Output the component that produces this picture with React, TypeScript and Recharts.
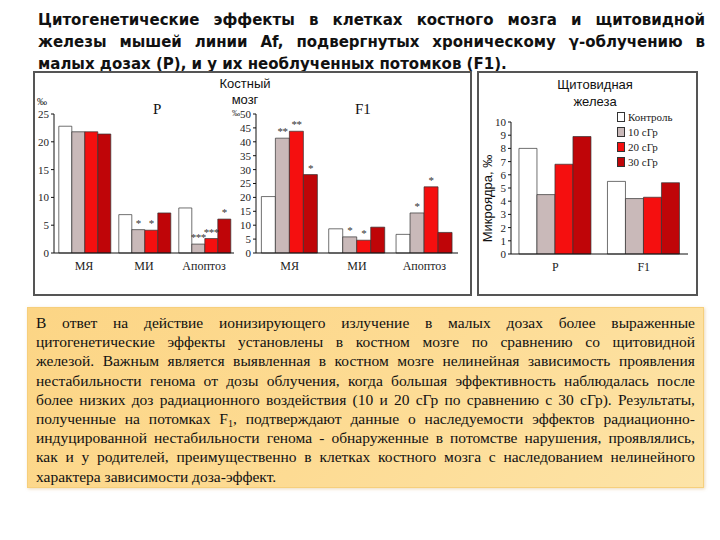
import React from "react"
import { BarChart, Bar, XAxis, YAxis, LabelList } from "recharts"

// categories
const groups = ["МЯ", "МИ", "Апоптоз"]
const doses = ["Контроль", "10 сГр", "20 сГр", "30 сГр"]

// bone marrow, P
const pControl = [22.8, 6.9, 8.1]
const p10 = [21.8, 4.2, 1.6]
const p20 = [21.8, 4.1, 2.6]
const p30 = [21.4, 7.2, 6.1]
const pStars10 = ["", "*", "***"]
const pStars20 = ["", "*", "***"]
const pStars30 = ["", "", "*"]

// bone marrow, F1
const f1Control = [20.3, 8.7, 6.7]
const f1Dose10 = [41.3, 5.8, 14.4]
const f1Dose20 = [43.8, 4.6, 23.8]
const f1Dose30 = [28.2, 9.3, 7.4]
const f1Stars10 = ["**", "*", "*"]
const f1Stars20 = ["**", "*", "*"]
const f1Stars30 = ["*", "", ""]

// thyroid
const thyGroups = ["P", "F1"]
const thyControl = [8.0, 5.5]
const thy10 = [4.5, 4.2]
const thy20 = [6.8, 4.3]
const thy30 = [8.9, 5.4]

const pTicks = [0, 5, 10, 15, 20, 25]
const f1Ticks = [0, 5, 10, 15, 20, 25, 30, 35, 40, 45, 50]
const thyTicks = [0, 1, 2, 3, 4, 5, 6, 7, 8, 9, 10]

const colors = ["#ffffff", "#c9b9b9", "#f50f0f", "#bf0508"]

const serif = "Liberation Serif, Times New Roman, DejaVu Serif, serif"
const sans = "Liberation Sans, Arial, sans-serif"

const makeRows = (
  cats: string[],
  a: number[],
  b: number[],
  c: number[],
  d: number[],
  sb?: string[],
  sc?: string[],
  sd?: string[]
) =>
  cats.map((name, i) => ({
    name,
    c0: a[i],
    c1: b[i],
    c2: c[i],
    c3: d[i],
    s1: sb ? sb[i] : "",
    s2: sc ? sc[i] : "",
    s3: sd ? sd[i] : "",
  }))

const pRows = makeRows(groups, pControl, p10, p20, p30, pStars10, pStars20, pStars30)
const f1Rows = makeRows(groups, f1Control, f1Dose10, f1Dose20, f1Dose30, f1Stars10, f1Stars20, f1Stars30)
const thyRows = makeRows(thyGroups, thyControl, thy10, thy20, thy30)

const renderStar = (props: any) => {
  const { x, y, width, value } = props
  if (!value) return null
  return (
    <text
      x={Number(x) + Number(width) / 2}
      y={Number(y) - 3}
      textAnchor="middle"
      fontSize={11}
      letterSpacing={-0.5}
      fill="#333"
      fontFamily={serif}
    >
      {value}
    </text>
  )
}

const tickStyle = { fontSize: 11, fill: "#222", fontFamily: serif }

const Panel = ({
  rows,
  ticks,
  max,
  width,
  height,
  top,
  gap,
  xHeight,
  stars,
}: {
  rows: any[]
  ticks: number[]
  max: number
  width: number
  height: number
  top: number
  gap: string
  xHeight: number
  stars: boolean
}) => (
  <BarChart
    width={width}
    height={height}
    data={rows}
    margin={{ top, right: 5, left: 0, bottom: 0 }}
    barCategoryGap={gap}
    barGap={0}
  >
    <XAxis
      dataKey="name"
      stroke="#111"
      tickLine={false}
      height={xHeight}
      tick={{ ...tickStyle, fontSize: 12 }}
      interval={0}
    />
    <YAxis
      width={20}
      domain={[0, max]}
      ticks={ticks}
      stroke="#111"
      tickSize={3}
      tick={tickStyle}
      interval={0}
    />
    {[0, 1, 2, 3].map((i) => (
      <Bar
        key={i}
        dataKey={`c${i}`}
        name={doses[i]}
        fill={colors[i]}
        stroke="#333"
        strokeWidth={0.7}
        isAnimationActive={false}
      >
        {stars && i > 0 ? <LabelList dataKey={`s${i}`} content={renderStar} /> : null}
      </Bar>
    ))}
  </BarChart>
)

const abs = (left: number, top: number): React.CSSProperties => ({
  position: "absolute",
  left,
  top,
})

const titleLines = [
  "Цитогенетические эффекты в клетках костного мозга и щитовидной",
  "железы мышей линии Af, подвергнутых хроническому γ-облучению в",
  "малых дозах (Р), и у их необлученных потомков (F1).",
]

const bodyLines: React.ReactNode[] = [
  "В ответ на действие ионизирующего излучение в малых дозах более выраженные",
  "цитогенетические эффекты установлены в костном мозге по сравнению со щитовидной",
  "железой. Важным является выявленная в костном мозге нелинейная зависимость проявления",
  "нестабильности генома от дозы облучения, когда большая эффективность наблюдалась после",
  "более низких доз радиационного воздействия (10 и 20 сГр по сравнению с 30 сГр). Результаты,",
  <>
    полученные на потомках F
    <sub style={{ fontSize: 10, lineHeight: 0, verticalAlign: "-3px" }}>1</sub>, подтверждают данные о
    наследуемости эффектов радиационно-
  </>,
  "индуцированной нестабильности генома - обнаруженные в потомстве нарушения, проявлялись,",
  "как и у родителей, преимущественно в клетках костного мозга с наследованием нелинейного",
  "характера зависимости доза-эффект.",
]

export default function App() {
  return (
    <div
      style={{
        position: "absolute",
        left: 0,
        top: 0,
        width: 720,
        height: 540,
        background: "#fff",
        overflow: "hidden",
      }}
    >
      {/* title */}
      <div
        style={{
          ...abs(38, 9),
          width: 667,
          fontFamily: "DejaVu Sans, Verdana, sans-serif",
          fontWeight: "bold",
          fontSize: 15,
          lineHeight: "22px",
          color: "#111",
        }}
      >
        {titleLines.map((t, i) => (
          <div
            key={i}
            style={{
              textAlign: "justify",
              textAlignLast: i < titleLines.length - 1 ? "justify" : "left",
            }}
          >
            {t}
          </div>
        ))}
      </div>

      {/* panel frames */}
      <div style={{ ...abs(33, 71), width: 435, height: 221, border: "2px solid #555" }} />
      <div style={{ ...abs(477, 71), width: 217, height: 221, border: "2px solid #555" }} />

      {/* bone marrow */}
      <div
        style={{
          ...abs(205, 76),
          width: 80,
          textAlign: "center",
          fontFamily: sans,
          fontSize: 13,
          lineHeight: "16px",
          color: "#111",
        }}
      >
        Костный
        <br />
        мозг
      </div>
      <div style={{ ...abs(37, 96), fontFamily: serif, fontSize: 10, color: "#222" }}>‰</div>
      <div style={{ ...abs(232, 109), fontFamily: serif, fontSize: 8, lineHeight: "9px", color: "#222" }}>‰</div>
      <div style={{ ...abs(153, 101), fontFamily: serif, fontSize: 15, color: "#111" }}>P</div>
      <div style={{ ...abs(355, 101), fontFamily: serif, fontSize: 15, color: "#111" }}>F1</div>

      <div style={abs(34, 95)}>
        <Panel rows={pRows} ticks={pTicks} max={25} width={205} height={178} top={19} gap="8%" xHeight={20} stars />
      </div>
      <div style={abs(236, 95)}>
        <Panel rows={f1Rows} ticks={f1Ticks} max={50} width={227} height={178} top={19} gap="8%" xHeight={20} stars />
      </div>

      {/* thyroid */}
      <div
        style={{
          ...abs(545, 76),
          width: 100,
          textAlign: "center",
          fontFamily: sans,
          fontSize: 13,
          lineHeight: "17px",
          color: "#111",
        }}
      >
        Щитовидная
        <br />
        железа
      </div>
      <div
        style={{
          ...abs(440, 191),
          width: 95,
          textAlign: "center",
          transform: "rotate(-90deg)",
          fontFamily: sans,
          fontSize: 13,
          color: "#111",
        }}
      >
        Микроядра, ‰
      </div>
      <div style={abs(491, 105)}>
        <Panel rows={thyRows} ticks={thyTicks} max={10} width={202} height={174} top={17} gap="9%" xHeight={25} stars={false} />
      </div>
      <div style={{ ...abs(617, 109), fontFamily: serif, fontSize: 11, color: "#222" }}>
        {doses.map((d, i) => (
          <div key={d} style={{ display: "flex", alignItems: "center", height: 15 }}>
            <span
              style={{
                display: "inline-block",
                width: 6,
                height: 8,
                background: colors[i],
                border: "1px solid #333",
                marginRight: 3,
              }}
            />
            {d}
          </div>
        ))}
      </div>

      {/* text box */}
      <div
        style={{
          ...abs(27, 307),
          width: 677,
          height: 181,
          boxSizing: "border-box",
          padding: "5px 8px 0 8px",
          background: "linear-gradient(135deg, #fcd585 0%, #fddb93 50%, #fde4a8 100%)",
          border: "1px solid #f6cf7c",
          boxShadow: "1px 1px 3px rgba(200,150,60,0.35)",
          fontFamily: serif,
          fontSize: 15.5,
          lineHeight: "19.2px",
          color: "#111",
        }}
      >
        {bodyLines.map((t, i) => (
          <div
            key={i}
            style={{
              textAlign: "justify",
              textAlignLast: i < bodyLines.length - 1 ? "justify" : "left",
            }}
          >
            {t}
          </div>
        ))}
      </div>
    </div>
  )
}
